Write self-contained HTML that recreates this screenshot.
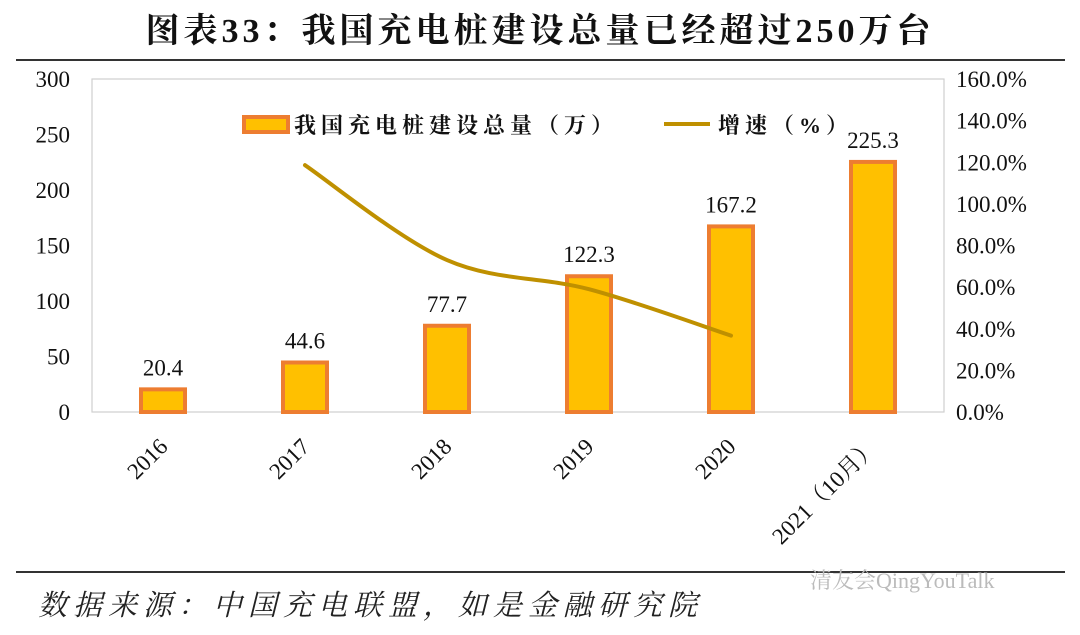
<!DOCTYPE html>
<html><head><meta charset="utf-8"><style>
body{margin:0;background:#fff;}
svg text{font-family:"Liberation Serif","Noto Serif CJK SC",serif;}
</style></head><body>
<svg width="1080" height="630" viewBox="0 0 1080 630" xmlns="http://www.w3.org/2000/svg">
<text x="540" y="42" text-anchor="middle" font-size="34" font-weight="bold" fill="#111" letter-spacing="4">图表33：我国充电桩建设总量已经超过250万台</text>
<line x1="16" y1="60" x2="1065" y2="60" stroke="#333" stroke-width="2"/>
<rect x="92" y="79" width="852" height="333" fill="none" stroke="#cfcfcf" stroke-width="1.2"/>
<g id="left-axis"></g>
<g id="right-axis"></g>
<g id="bars"></g>
<g id="line"></g>
<g id="xlabels"></g>
<g>
<rect x="244" y="117" width="44" height="15" fill="#FFC000" stroke="#ED7D31" stroke-width="4"/>
<text x="294" y="133" font-size="22" font-weight="bold" fill="#111" letter-spacing="5">我国充电桩建设总量（万）</text>
<line x1="664" y1="124" x2="710" y2="124" stroke="#BF9000" stroke-width="4"/>
<text x="718" y="133" font-size="22" font-weight="bold" fill="#111" letter-spacing="5">增速（%）</text>
</g>
<line x1="16" y1="572" x2="1065" y2="572" stroke="#333" stroke-width="2"/>
<text x="38" y="615" font-size="29" font-style="italic" fill="#222" letter-spacing="6">数据来源：中国充电联盟，如是金融研究院</text>
<text x="810" y="588" font-size="22" fill="#bbb" font-family="Liberation Sans,Noto Sans CJK SC,sans-serif">清友会QingYouTalk</text>
</svg>
<script>
const categories=["2016","2017","2018","2019","2020","2021（10月）"];
const totals=[20.4,44.6,77.7,122.3,167.2,225.3];
const growth=[null,118.6,73.0,59.0,36.7,null];
const leftTicks=[0,50,100,150,200,250,300];
const rightTicks=[0,20,40,60,80,100,120,140,160];
const NS="http://www.w3.org/2000/svg";
const x0=92,x1=944,yb=412,yt=79;
const step=(x1-x0)/categories.length;
const xc=i=>x0+step*(i+0.5);
const yL=v=>yb-(v/300)*(yb-yt);
const yR=v=>yb-(v/160)*(yb-yt);
function mk(tag,attrs,parent,txt){const e=document.createElementNS(NS,tag);for(const k in attrs)e.setAttribute(k,attrs[k]);if(txt!=null)e.textContent=txt;document.getElementById(parent).appendChild(e);return e;}
leftTicks.forEach(t=>{const e=mk('text',{x:70,y:yL(t)+8,'text-anchor':'end','font-size':23,fill:'#111'},'left-axis',t);

});
rightTicks.forEach(t=>{const e=mk('text',{x:956,y:yR(t)+8,'font-size':23,fill:'#111'},'right-axis',t.toFixed(1)+'%');

});
totals.forEach((v,i)=>{const w=44;const r=mk('rect',{x:xc(i)-w/2,y:yL(v),width:w,height:yb-yL(v),fill:'#FFC000',stroke:'#ED7D31','stroke-width':4},'bars');


const t=mk('text',{x:xc(i),y:yL(v)-14,'text-anchor':'middle','font-size':23,fill:'#111'},'bars',v.toFixed(1));


const l=mk('text',{x:0,y:0,'text-anchor':'end','font-size':23,fill:'#111',transform:`translate(${xc(i)+6},${yb+36}) rotate(-45)`},'xlabels',categories[i]);

});
const pts=[];growth.forEach((g,i)=>{if(g!=null)pts.push([xc(i),yR(g)]);});
let d=`M${pts[0][0]},${pts[0][1]}`;
for(let i=0;i<pts.length-1;i++){const p0=pts[Math.max(i-1,0)],p1=pts[i],p2=pts[i+1],p3=pts[Math.min(i+2,pts.length-1)];
const c1=[p1[0]+(p2[0]-p0[0])/6,p1[1]+(p2[1]-p0[1])/6],c2=[p2[0]-(p3[0]-p1[0])/6,p2[1]-(p3[1]-p1[1])/6];
d+=` C${c1[0]},${c1[1]} ${c2[0]},${c2[1]} ${p2[0]},${p2[1]}`;}
const pl=mk('path',{d:d,fill:'none',stroke:'#BF9000','stroke-width':4,'stroke-linecap':'round'},'line');


</script>
</body></html>
